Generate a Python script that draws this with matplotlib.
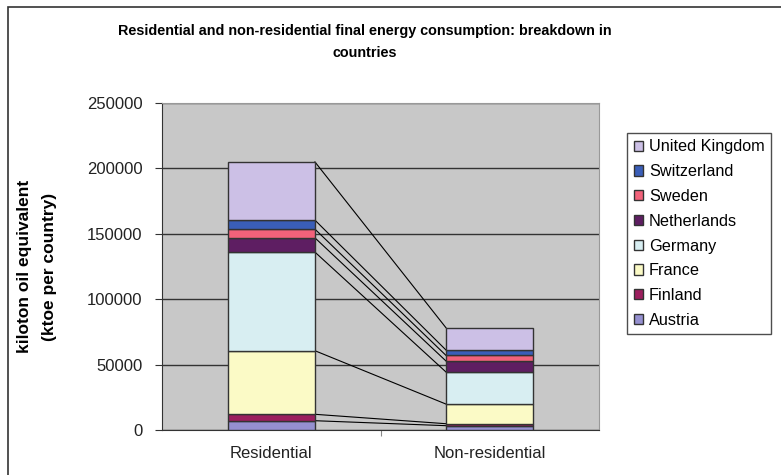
import numpy as np
import matplotlib
matplotlib.use('Agg')
from matplotlib import pyplot as plt
from matplotlib import patches as mpatches

# Final energy consumption (ktoe) per country
categories  = ['Residential', 'Non-residential']
countries   = ['Austria', 'Finland', 'France', 'Germany', 'Netherlands',
               'Sweden', 'Switzerland', 'United Kingdom']
residential = [7100, 4900, 48600, 75400, 10900, 6650, 6900, 44500]
non_resid   = [3300, 1500, 15000, 24500, 8400, 4300, 4100, 17000]
colours     = ['#9590d0', '#9c1e5e', '#fbfac6', '#d8eef2', '#5e1e62',
               '#f2627a', '#3a5eb8', '#ccc0e6']
yticks      = [0, 50000, 100000, 150000, 200000, 250000]

plt.rcParams['font.family'] = ['Liberation Sans', 'DejaVu Sans']

def main():

    fig = plt.figure(figsize=(7.81, 4.75), dpi=100)
    ax = fig.add_axes([162/781, 1 - 430/475, 437/781, 327/475])
    ax.set_facecolor('#c8c8c8')

    # Outer chart frame (runs past the bottom and right edges)
    fig.patches.append(mpatches.Rectangle((8/781, -0.05), 1.1, 1.05 - 7/475,
                       transform=fig.transFigure, fill=False,
                       edgecolor='#333333', linewidth=1.2))

    xpos  = np.arange(len(categories))
    width = 0.4
    data  = np.array([residential, non_resid])

    bottoms = np.zeros(len(categories))
    for i, name in enumerate(countries):
        vals = data[:, i]
        ax.bar(xpos, vals, width, bottom=bottoms, color=colours[i],
               edgecolor='#333333', linewidth=1.0, label=name, zorder=3)
        tops = bottoms + vals
        # Series line joining segment tops between the two bars
        ax.plot([xpos[0] + width/2, xpos[1] - width/2], [tops[0], tops[1]],
                color='black', linewidth=0.8, zorder=2)
        bottoms = tops

    ax.set_xlim(-0.5, 1.5)
    ax.set_ylim(0, 250000)
    ax.set_yticks(yticks)
    ax.set_yticklabels([str(v) for v in yticks], fontsize=12, color='#222222')
    ax.set_xticks([0.5])
    ax.set_xticklabels([''])
    ax.tick_params(axis='x', length=4, color='#888888')
    ax.tick_params(axis='y', length=5, pad=9, color='#333333')
    for k, name in enumerate(categories):
        ax.text(xpos[k], -12500, name, ha='center', va='top', fontsize=12,
                color='#222222')
    ax.yaxis.grid(True, color='#333333', linewidth=1.0, zorder=1)
    ax.set_axisbelow(True)
    for side in ['top', 'right']:
        ax.spines[side].set_color('#999999')
    for side in ['left', 'bottom']:
        ax.spines[side].set_color('#333333')

    ax.set_ylabel('kiloton oil equivalent\n(ktoe per country)', fontsize=12.5,
                  fontweight='bold', linespacing=1.8)
    ax.yaxis.set_label_coords((57 - 162) / 437, 0.5)
    fig.text(365/781, 1 - 42/475,
             'Residential and non-residential final energy consumption: breakdown in\ncountries',
             ha='center', va='center', fontsize=10.4, fontweight='bold',
             linespacing=1.75)

    handles, labels = ax.get_legend_handles_labels()
    leg = fig.legend(handles[::-1], labels[::-1], loc='upper left',
                     bbox_to_anchor=(627/781, 1 - 133/475), fontsize=11.7,
                     frameon=True, fancybox=False, edgecolor='#222222',
                     handlelength=0.6, handleheight=0.6, handletextpad=0.35,
                     labelspacing=0.6, borderpad=0.4, borderaxespad=0)
    leg.get_frame().set_linewidth(1.0)

    fig.savefig('out.png', dpi=100)
    plt.close()

if __name__ == '__main__': main()
